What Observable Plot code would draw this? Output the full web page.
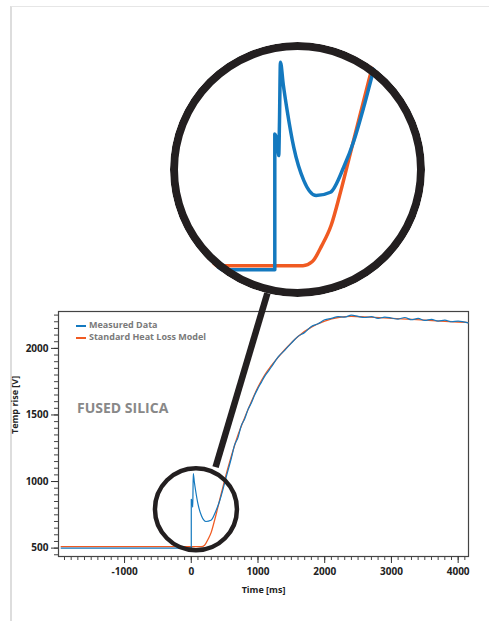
<!DOCTYPE html>
<html>
<head>
<meta charset="utf-8">
<script src="https://cdn.jsdelivr.net/npm/d3@7"></script>
<script src="https://cdn.jsdelivr.net/npm/@observablehq/plot@0.6"></script>
<style>
  body { margin: 0; background: #fff; font-family: "Open Sans", sans-serif; }
  #wrap { position: relative; width: 489px; height: 621px; overflow: hidden; }
  #panel { position: absolute; left: 10px; top: 6px; width: 480px; height: 620px; border-left: 2px solid #ddd; border-top: 1px solid #e6e6e6; }
  #main, #inset { position: absolute; }
  #main { left: 0; top: 0; }
  #inset { left: 170px; top: 42px; clip-path: circle(50%); }
  .leg { position: absolute; font-size: 9px; font-weight: 700; color: #7a7a7a; white-space: nowrap; }
  .leg i { display: inline-block; width: 10px; height: 2px; vertical-align: middle; margin-right: 3px; }
  #silica { position: absolute; left: 77px; top: 398px; font-size: 14px; font-weight: 700; color: #888; }
</style>
</head>
<body>
<div id="wrap">
  <div id="panel"></div>
  <div id="main"></div>
  <div id="inset"></div>
  <div class="leg" style="left:76px;top:318px"><i style="background:#1479bf"></i>Measured Data</div>
  <div class="leg" style="left:76px;top:330px"><i style="background:#f05a22"></i>Standard Heat Loss Model</div>
  <div id="silica">FUSED SILICA</div>
</div>
<script>
// Measured signal [ms, V]
const measuredT = [-1950, -1000, 0, 0, 15, 21, 25, 30, 45, 66, 101, 154, 220, 296, 367, 421, 473, 518, 600, 650, 700, 750, 800, 850, 900, 950, 1000, 1050, 1100, 1150, 1200, 1300, 1400, 1500, 1600, 1700, 1800, 1900, 2000, 2100, 2200, 2300, 2400, 2500, 2600, 2700, 2800, 2900, 3000, 3100, 3200, 3300, 3400, 3500, 3600, 3700, 3800, 3900, 4000, 4150];
const measuredV = [500, 500, 500, 866, 840, 808, 900, 1060, 1000, 929, 830, 741, 700, 709, 777, 848, 938, 1024, 1175, 1275, 1330, 1420, 1470, 1540, 1590, 1650, 1700, 1745, 1790, 1825, 1860, 1935, 1985, 2040, 2090, 2120, 2165, 2185, 2215, 2225, 2238, 2235, 2250, 2240, 2232, 2238, 2225, 2235, 2228, 2220, 2232, 2215, 2225, 2210, 2218, 2205, 2212, 2200, 2205, 2192];
// Heat loss model [ms, V]
const modelT = [-1950, 0, 150, 200, 250, 300, 350, 400, 450, 500, 600, 700, 800, 900, 1000, 1100, 1200, 1400, 1600, 1800, 2000, 2200, 2400, 2600, 3000, 3500, 4000, 4150];
const modelV = [511, 511, 511, 522, 565, 620, 710, 810, 910, 1010, 1190, 1350, 1480, 1600, 1710, 1800, 1870, 1990, 2090, 2160, 2205, 2232, 2240, 2236, 2226, 2212, 2198, 2194];

const yLabels = [500, 1000, 1500, 2000];
const xLabels = [-1000, 0, 1000, 2000, 3000, 4000];

// magnifier: small lens centre, handle ends (data units of main chart)
const lensCenter = [{x: 70, y: 792}];
const handle = [{x1: 364, y1: 1108, x2: 1150, y2: 2430}];

const measured = measuredT.map((t, i) => ({t, v: measuredV[i]}));
const model = modelT.map((t, i) => ({t, v: modelV[i]}));

const BLUE = "#1479bf", ORANGE = "#f05a22", DARK = "#231f20";
const tickFont = {fontSize: 10, fontWeight: 700, fill: "#222", tickFormat: d => String(d)};

const main = Plot.plot({
  width: 489, height: 621,
  marginTop: 311, marginBottom: 65, marginLeft: 58, marginRight: 21,
  style: {fontFamily: "Open Sans, sans-serif", overflow: "visible", background: "transparent"},
  x: {domain: [-1990, 4155]},
  y: {domain: [437, 2277]},
  marks: [
    Plot.frame({stroke: "#444", strokeWidth: 1.2}),
    Plot.axisY(d3.range(450, 2300, 50), {tickSize: 4, text: null, stroke: "#444"}),
    Plot.axisY(yLabels, {tickSize: 7, tickPadding: 3, stroke: "#333", ...tickFont, label: null}),
    Plot.axisX(d3.range(-1900, 4200, 100), {tickSize: 4, text: null, stroke: "#444"}),
    Plot.axisX(xLabels, {tickSize: 7, tickPadding: 4, stroke: "#333", ...tickFont, label: null}),
    Plot.text(["Time [ms]"], {frameAnchor: "bottom", dy: 36, fontSize: 9, fontWeight: 700, fill: "#222"}),
    Plot.text(["Temp rise [V]"], {frameAnchor: "left", dx: -43, rotate: -90, fontSize: 9, fontWeight: 700, fill: "#222"}),
    Plot.line(model, {x: "t", y: "v", stroke: ORANGE, strokeWidth: 1.3, curve: "monotone-x"}),
    Plot.line(measured, {x: "t", y: "v", stroke: BLUE, strokeWidth: 1.2, curve: "monotone-x"}),
    Plot.link(handle, {x1: "x1", y1: "y1", x2: "x2", y2: "y2", stroke: DARK, strokeWidth: 6.5}),
    Plot.dot(lensCenter, {x: "x", y: "y", r: 41, stroke: DARK, strokeWidth: 4.5, fill: "none"})
  ]
});
document.getElementById("main").appendChild(main);

const inset = Plot.plot({
  width: 255, height: 255,
  margin: 0,
  style: {background: "#fff"},
  x: {domain: [-555, 802], axis: null},
  y: {domain: [425, 1113], axis: null},
  marks: [
    Plot.line(model, {x: "t", y: "v", stroke: ORANGE, strokeWidth: 3.5, curve: "monotone-x"}),
    Plot.line(measured.filter(d => d.t < 700), {x: "t", y: "v", stroke: BLUE, strokeWidth: 3.5, curve: "monotone-x"}),
    () => d3.create("svg:circle").attr("cx", 127.5).attr("cy", 127.5).attr("r", 123.5)
      .attr("fill", "none").attr("stroke", DARK).attr("stroke-width", 8).node()
  ]
});
document.getElementById("inset").appendChild(inset);
</script>
</body>
</html>
